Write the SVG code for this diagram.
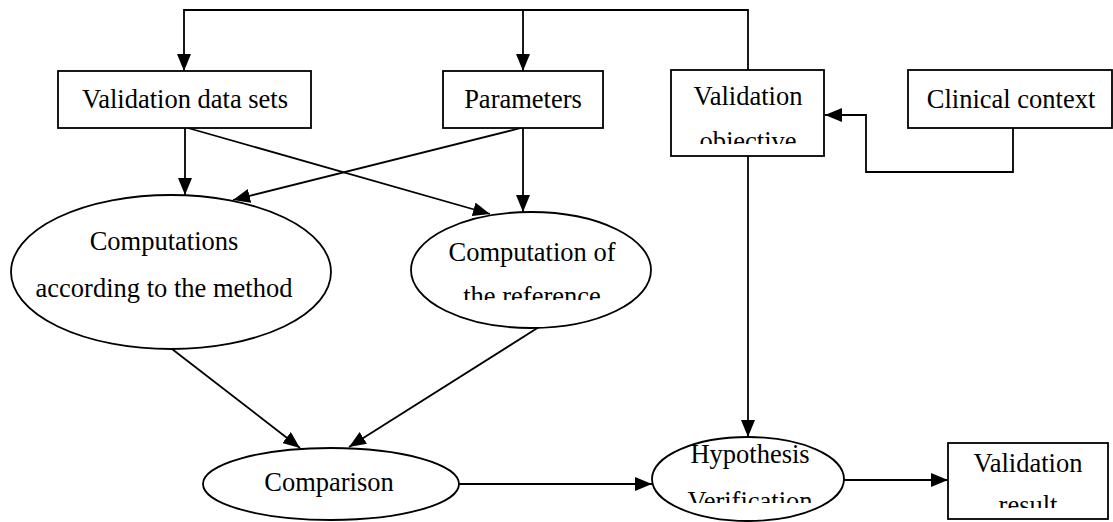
<svg xmlns="http://www.w3.org/2000/svg" width="1113" height="522" viewBox="0 0 1113 522">
  <style>
    .shape { fill: #ffffff; stroke: #000000; stroke-width: 1.8; }
    .edge { fill: none; stroke: #000000; stroke-width: 1.8; }
    .arr { marker-end: url(#ah); }
    text { font-family: "Liberation Serif", "Times New Roman", serif; font-size: 26.5px; fill: #000000; text-anchor: middle; }
  </style>
  <defs>
    <marker id="ah" markerUnits="userSpaceOnUse" markerWidth="18" markerHeight="14" refX="17" refY="7" orient="auto">
      <path d="M0,0 L17,7 L0,14 z" fill="#000000"/>
    </marker>
    <clipPath id="clipVO"><rect x="671" y="60" width="153" height="84"/></clipPath>
    <clipPath id="clipE2"><rect x="400" y="200" width="260" height="100"/></clipPath>
    <clipPath id="clipE4"><rect x="640" y="430" width="220" height="73"/></clipPath>
    <clipPath id="clipVR"><rect x="948" y="430" width="160" height="78"/></clipPath>
  </defs>

  <g id="connectors">
    <path class="edge arr" d="M748,70 V10 H184 V71"/>
    <path class="edge arr" d="M523,10 V71"/>
    <path class="edge arr" d="M185,128 V195"/>
    <path class="edge arr" d="M188,128 L490,214"/>
    <path class="edge arr" d="M521,128 L233,200"/>
    <path class="edge arr" d="M523,128 V212"/>
    <path class="edge arr" d="M172,349 L300,448"/>
    <path class="edge arr" d="M539,327 L349,447"/>
    <path class="edge arr" d="M459,484 H652"/>
    <path class="edge arr" d="M844,480 H948"/>
    <path class="edge arr" d="M748,156 V437"/>
    <path class="edge arr" d="M1013,128 V172 H866 V115 H825"/>
  </g>

  <g id="validation-data-sets">
    <rect class="shape" x="58" y="71" width="253" height="57"/>
    <text x="185" y="108">Validation data sets</text>
  </g>
  <g id="parameters">
    <rect class="shape" x="443" y="71" width="160" height="57"/>
    <text x="523" y="108">Parameters</text>
  </g>
  <g id="validation-objective">
    <rect class="shape" x="671" y="70" width="153" height="86"/>
    <text x="748" y="105">Validation</text>
    <text x="748" y="150" clip-path="url(#clipVO)">objective</text>
  </g>
  <g id="clinical-context">
    <rect class="shape" x="908" y="70" width="204" height="58"/>
    <text x="1011" y="108">Clinical context</text>
  </g>
  <g id="computations-method">
    <ellipse class="shape" cx="171" cy="272" rx="160" ry="77"/>
    <text x="164" y="250">Computations</text>
    <text x="164" y="297">according to the method</text>
  </g>
  <g id="computation-reference">
    <ellipse class="shape" cx="531" cy="270" rx="120" ry="58"/>
    <text x="532" y="261">Computation of</text>
    <text x="532" y="305" clip-path="url(#clipE2)">the reference</text>
  </g>
  <g id="comparison">
    <ellipse class="shape" cx="331" cy="484" rx="128" ry="36"/>
    <text x="329" y="491">Comparison</text>
  </g>
  <g id="hypothesis-verification">
    <ellipse class="shape" cx="748" cy="479" rx="96" ry="42"/>
    <text x="750" y="463">Hypothesis</text>
    <text x="750" y="510" clip-path="url(#clipE4)">Verification</text>
  </g>
  <g id="validation-result">
    <rect class="shape" x="948" y="443" width="160" height="76"/>
    <text x="1028" y="472">Validation</text>
    <text x="1028" y="514" clip-path="url(#clipVR)">result</text>
  </g>
</svg>
